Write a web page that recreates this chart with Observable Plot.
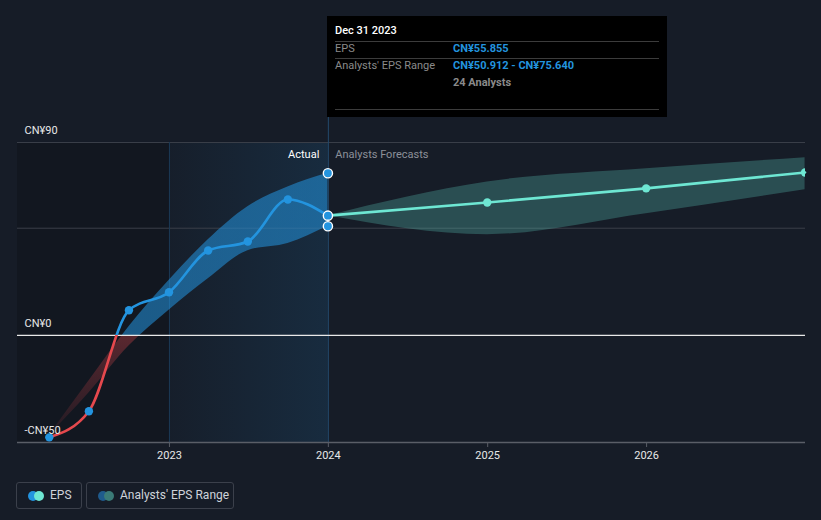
<!DOCTYPE html>
<html><head><meta charset="utf-8">
<script src="https://cdn.jsdelivr.net/npm/d3@7"></script>
<script src="https://cdn.jsdelivr.net/npm/@observablehq/plot@0.6"></script>
<style>
body{margin:0;background:#161c27;font-family:Roboto,"Noto Sans",sans-serif;}
#wrap{position:relative;width:821px;height:520px;overflow:hidden;background:#161c27;}
#chart{position:absolute;left:0;top:0;}
#tip{position:absolute;left:327px;top:16px;width:340px;height:101px;background:#000;color:#fff;font-size:11px;}
#tip .r{position:absolute;white-space:nowrap;line-height:14px;}
#tip .hl{position:absolute;left:8px;width:324px;height:1px;background:#3c3c3c;}
#tip .g{color:#8a8a8a;}
#tip .b{color:#2394df;font-weight:bold;}
#legend{position:absolute;left:0;top:482px;font-size:12px;color:#cfd3da;}
.lg{position:absolute;top:0;height:25px;border:1px solid #3b404b;border-radius:3px;box-sizing:content-box;}
.lg .d{position:absolute;top:7.5px;width:10px;height:10px;border-radius:50%;}
.lg .t{position:absolute;top:5px;white-space:nowrap;line-height:15px;}
</style></head><body>
<div id="wrap">
<div id="chart"></div>
<div id="tip"></div>
<div id="legend"></div>
</div>
<script>
// ---- data ----
const epsDates = ["2022-03-31","2022-06-30","2022-09-30","2022-12-31","2023-03-31","2023-06-30","2023-09-30","2023-12-31"];
const epsValues = [-47.6, -35.4, 11.7, 20.1, 39.6, 43.8, 63.4, 55.855];
const epsRangeLow = [-46.6, -26.9, -5.0, 11.7, 26.4, 39.5, 42.9, 50.912];
const epsRangeHigh = [-46.6, -21.3, 4.0, 25.6, 44.6, 60.0, 69.2, 75.640];
const forecastDates = ["2023-12-31","2024-12-31","2025-12-31","2026-12-31"];
const forecastValues = [55.855, 62.0, 68.6, 76.0];
const forecastLow = [55.855, 47.0, 56.8, 68.0];
const forecastHigh = [55.855, 71.6, 77.7, 82.9];
const yTickValues = [-50, 0, 50, 90];
const yTickLabels = ["-CN¥50", "CN¥0", "", "CN¥90"];
const xTickYears = ["2023", "2024", "2025", "2026"];
const xDomain = ["2022-01-17", "2027-01-01"];
const regionBounds = ["2022-01-17", "2023-01-01", "2024-01-01"];
const tipDate = "Dec 31 2023";
const tipEps = "CN¥55.855";
const tipRange = "CN¥50.912 - CN¥75.640";
const tipAnalysts = "24 Analysts";
const legendLabels = ["EPS", "Analysts' EPS Range"];

// ---- tables ----
const past = epsDates.map((d, i) => ({date: new Date(d), eps: epsValues[i], low: epsRangeLow[i], high: epsRangeHigh[i]}));
const fc = forecastDates.map((d, i) => ({date: new Date(d), value: forecastValues[i], low: forecastLow[i], high: forecastHigh[i]}));
const last = past[past.length - 1];
const highlight = [last.eps, last.low, last.high].map(v => ({date: last.date, v}));
const regions = [
  {x1: new Date(regionBounds[0]), x2: new Date(regionBounds[1])},
  {x1: new Date(regionBounds[1]), x2: new Date(regionBounds[2])}
];
const yLab = yTickValues.map((v, i) => ({v, label: yTickLabels[i]})).filter(d => d.label);
const xTicks = xTickYears.map(y => new Date(y + "-01-01"));
const d2024 = new Date(regionBounds[2]);

const H = 470;
const plot = Plot.plot({
  width: 821, height: H,
  marginLeft: 17, marginRight: 16, marginTop: 117, marginBottom: 28,
  x: {type: "utc", domain: xDomain.map(d => new Date(d))},
  y: {domain: [-50, 101.66]},
  style: {background: "transparent", color: "#e0e0e0", fontFamily: "Roboto, 'Noto Sans', sans-serif", fontSize: "11px"},
  marks: [
    Plot.rect(regions.slice(0, 1), {x1: "x1", x2: "x2", y1: -50, y2: 90, fill: "rgba(0,0,0,0.16)"}),
    Plot.rect(regions.slice(1), {x1: "x1", x2: "x2", y1: -50, y2: 90, fill: "url(#shadeGrad)"}),
    Plot.ruleY(yTickValues.filter(v => v > 0), {stroke: "#3a3f49", strokeWidth: 1}),
    Plot.ruleX([new Date(regionBounds[1])], {y1: -50, y2: 90, stroke: "#1b3a56"}),
    Plot.ruleX([d2024], {stroke: "#234a6c"}),
    Plot.areaY(past, {x: "date", y1: "low", y2: "high", fill: "url(#bandFill)", curve: "monotone-x"}),
    Plot.areaY(fc, {x: "date", y1: "low", y2: "high", fill: "#58c5b5", fillOpacity: 0.3, curve: "monotone-x"}),
    Plot.ruleY(yTickValues.filter(v => v === 0), {stroke: "#e8e8e8", strokeWidth: 1.2}),
    Plot.ruleY(yTickValues.filter(v => v === -50), {stroke: "#5a5e67", strokeWidth: 1.5}),
    Plot.line(past, {x: "date", y: "eps", stroke: "url(#epsStroke)", strokeWidth: 2.6, curve: "monotone-x"}),
    Plot.line(fc, {x: "date", y: "value", stroke: "#6ee7d3", strokeWidth: 2.6, curve: "monotone-x"}),
    Plot.dot(past.slice(0, -1), {x: "date", y: "eps", r: 4.2, fill: "#2394df"}),
    Plot.dot(fc.slice(1), {x: "date", y: "value", r: 4.2, fill: "#6ee7d3", clip: true}),
    Plot.dot(highlight, {x: "date", y: "v", r: 4.6, fill: "#2394df", stroke: "#fff", strokeWidth: 1.4}),
    Plot.text(yLab, {y: "v", text: "label", frameAnchor: "left", dx: 7, dy: -12, textAnchor: "start", fill: "#e8e8e8", fontSize: 11}),
    Plot.text(["Actual"], {x: d2024, text: d => d, frameAnchor: "top", dy: 33, dx: -9, textAnchor: "end", fill: "#ffffff", fontSize: 11}),
    Plot.text(["Analysts Forecasts"], {x: d2024, text: d => d, frameAnchor: "top", dy: 33, dx: 7, textAnchor: "start", fill: "#8c9099", fontSize: 11}),
    Plot.axisX({ticks: xTicks, tickFormat: d3.utcFormat("%Y"), tickSize: 5, tickPadding: 4, stroke: "#5a5e67", fill: "#e8e8e8", fontSize: 11, label: null}),
    Plot.axisY({ticks: [], label: null})
  ]
});
document.getElementById("chart").appendChild(plot);

// gradients (positions from the plot's own y scale)
const ys = plot.scale("y");
const zeroFrac = ys.apply(0) / H;
const botFrac = ys.apply(-50) / H;
const svg = d3.select(plot);
const defs = svg.insert("defs", ":first-child");
const lg = defs.append("linearGradient").attr("id", "epsStroke").attr("gradientUnits", "userSpaceOnUse")
  .attr("x1", 0).attr("x2", 0).attr("y1", 0).attr("y2", H);
lg.append("stop").attr("offset", zeroFrac).attr("stop-color", "#2394df");
lg.append("stop").attr("offset", zeroFrac).attr("stop-color", "#e5484d");
const bf = defs.append("linearGradient").attr("id", "bandFill").attr("gradientUnits", "userSpaceOnUse")
  .attr("x1", 0).attr("x2", 0).attr("y1", 0).attr("y2", H);
bf.append("stop").attr("offset", 0).attr("stop-color", "#2394df").attr("stop-opacity", 0.55);
bf.append("stop").attr("offset", zeroFrac).attr("stop-color", "#2394df").attr("stop-opacity", 0.55);
bf.append("stop").attr("offset", zeroFrac).attr("stop-color", "#e5484d").attr("stop-opacity", 0.34);
bf.append("stop").attr("offset", botFrac).attr("stop-color", "#e5484d").attr("stop-opacity", 0.06);
const sg = defs.append("linearGradient").attr("id", "shadeGrad").attr("x1", 0).attr("x2", 1).attr("y1", 0).attr("y2", 0);
sg.append("stop").attr("offset", 0).attr("stop-color", "#2394df").attr("stop-opacity", 0.02);
sg.append("stop").attr("offset", 1).attr("stop-color", "#2394df").attr("stop-opacity", 0.13);

// tooltip
const tip = document.getElementById("tip");
tip.innerHTML = `
<div class="r" style="left:8px;top:8px;font-weight:500;">${tipDate}</div>
<div class="hl" style="top:25px"></div>
<div class="r g" style="left:8px;top:26px;">EPS</div>
<div class="r b" style="left:126px;top:26px;">${tipEps}</div>
<div class="hl" style="top:42px"></div>
<div class="r g" style="left:8px;top:43px;">Analysts' EPS Range</div>
<div class="r b" style="left:126px;top:43px;">${tipRange}</div>
<div class="r g" style="left:126px;top:60px;font-weight:bold;">${tipAnalysts}</div>
<div class="hl" style="top:93px"></div>`;

// legend
const legend = document.getElementById("legend");
legend.innerHTML = `
<div class="lg" style="left:16px;width:64px;">
  <div class="d" style="left:11px;background:#2394df"></div>
  <div class="d" style="left:17px;background:#6ee7d3"></div>
  <div class="t" style="left:33px">${legendLabels[0]}</div>
</div>
<div class="lg" style="left:86px;width:146px;">
  <div class="d" style="left:11px;background:#1f5b8c"></div>
  <div class="d" style="left:17px;background:#3b7b77"></div>
  <div class="t" style="left:33px">${legendLabels[1]}</div>
</div>`;
</script>
</body></html>
